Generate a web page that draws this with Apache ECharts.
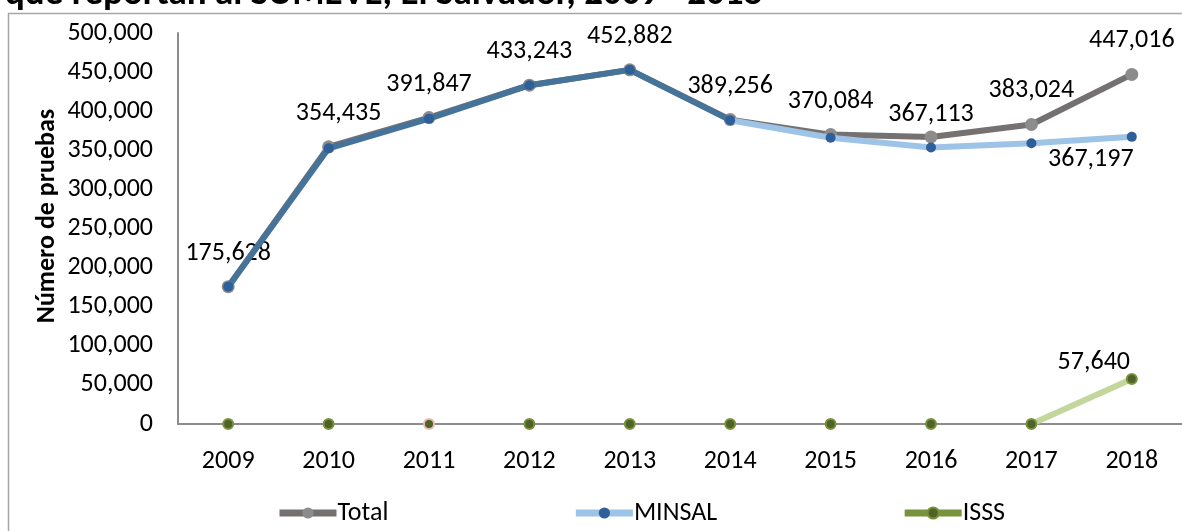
<!DOCTYPE html>
<html>
<head>
<meta charset="utf-8">
<script src="https://cdn.jsdelivr.net/npm/echarts@6/dist/echarts.min.js"></script>
<style>
	html, body { margin: 0; padding: 0; background: #fff; }
	#chart { width: 1182px; height: 531px; }
</style>
</head>
<body>
<div id="chart"></div>
<script>
// datos
const years = ["2009", "2010", "2011", "2012", "2013", "2014", "2015", "2016", "2017", "2018"];
const totalData = [175628, 354435, 391847, 433243, 452882, 389256, 370084, 367113, 383024, 447016];
const minsalData = [175628, 352500, 390500, 433243, 452882, 388500, 366000, 353500, 359000, 367197];
const isssData = [0, 0, 0, 0, 0, 0, 0, 0, 0, 57640];
const yTicks = [0, 50000, 100000, 150000, 200000, 250000, 300000, 350000, 400000, 450000, 500000];

const fontFam = "Carlito, Lato, 'Open Sans', sans-serif";
const fmt = v => Number(v).toLocaleString("en-US");
const lastIdx = years.length - 1;

// colores
const grayLine = "#767171";
const grayDot = "#8c8c8c";
const steelBlue = "#46739a";
const lightBlue = "#9dc3e6";
const darkBlue = "#2f5f98";
const greenLine = "#77933c";
const lightGreen = "#c3d69b";
const darkGreen = "#4f6228";

// corte de color por segmento (2014 y 2017)
const cut2014 = 5 / lastIdx;
const cut2017 = 8 / lastIdx;

const chart = echarts.init(document.getElementById("chart"), null, { renderer: "canvas" });

const option = {
	animation: false,
	backgroundColor: "#fff",
	textStyle: { fontFamily: fontFam },
	graphic: [
		{
			type: "text",
			left: 5,
			top: -24,
			style: {
				text: "que reportan al SUMEVE, El Salvador, 2009 - 2018",
				font: "bold 37px " + fontFam,
				fill: "#000"
			}
		},
		{
			// título del eje Y
			type: "text",
			x: 47,
			y: 216,
			rotation: Math.PI / 2,
			style: {
				text: "Número de pruebas",
				font: "bold 26px " + fontFam,
				fill: "#000",
				align: "center",
				verticalAlign: "middle"
			}
		},
		{
			type: "rect",
			shape: { x: 8.5, y: 13.5, width: 1200, height: 600 },
			style: { fill: "none", stroke: "#a6a6a6", lineWidth: 1.5 },
			z: 100
		}
	],
	grid: {
		left: 178,
		right: 0,
		top: 33,
		bottom: 107
	},
	legend: {
		left: 271,
		top: 495,
		itemGap: 184,
		itemWidth: 57,
		itemHeight: 14,
		textStyle: { fontSize: 26, color: "#000", fontFamily: fontFam, padding: [0, 0, 0, -4] },
		data: [
			{ name: "Total", itemStyle: { color: grayDot }, lineStyle: { color: grayLine, width: 7 } },
			{ name: "MINSAL", itemStyle: { color: darkBlue }, lineStyle: { color: lightBlue, width: 7 } },
			{ name: "ISSS", itemStyle: { color: darkGreen, borderColor: greenLine, borderWidth: 2 }, lineStyle: { color: greenLine, width: 7 } }
		]
	},
	xAxis: {
		type: "category",
		data: years,
		boundaryGap: true,
		axisLine: { lineStyle: { color: "#8c8c8c", width: 2 } },
		axisTick: { show: false },
		axisLabel: { fontSize: 26, color: "#000", margin: 24, fontFamily: fontFam }
	},
	yAxis: {
		type: "value",
		min: yTicks[0],
		max: yTicks[yTicks.length - 1],
		interval: yTicks[1] - yTicks[0],
		axisLine: { show: true, lineStyle: { color: "#8c8c8c", width: 2 } },
		axisTick: { show: false },
		splitLine: { show: false },
		axisLabel: { fontSize: 26, color: "#000", margin: 25, formatter: fmt, fontFamily: fontFam }
	},
	series: [
		{
			name: "Total",
			type: "line",
			data: totalData.map((v, i) => {
				if (i === 1) return { value: v, label: { offset: [10, 0] } };
				if (i === 7) return { value: v, label: { distance: 3 } };
				return v;
			}),
			z: 2,
			symbol: "circle",
			symbolSize: 13,
			itemStyle: { color: grayDot },
			lineStyle: { color: grayLine, width: 6 },
			label: {
				show: true,
				position: "top",
				distance: 14,
				fontSize: 26,
				color: "#000",
				fontFamily: fontFam,
				formatter: p => fmt(p.value)
			}
		},
		{
			name: "MINSAL",
			type: "line",
			z: 3,
			data: minsalData.map((v, i) => i === lastIdx ? {
				value: v,
				label: { show: true, position: "bottom", distance: 5, offset: [-41, 0] }
			} : v),
			symbol: "circle",
			symbolSize: 10,
			itemStyle: { color: darkBlue },
			lineStyle: {
				width: 6,
				color: {
					type: "linear", x: 0, y: 0, x2: 1, y2: 0,
					colorStops: [
						{ offset: 0, color: steelBlue },
						{ offset: cut2014, color: steelBlue },
						{ offset: cut2014 + 0.001, color: lightBlue },
						{ offset: 1, color: lightBlue }
					]
				}
			},
			label: {
				show: false,
				fontSize: 26,
				color: "#000",
				fontFamily: fontFam,
				formatter: p => fmt(p.value)
			}
		},
		{
			name: "ISSS",
			type: "line",
			z: 4,
			data: isssData.map((v, i) => {
				if (i === lastIdx) {
					return { value: v, label: { show: true, position: "top", distance: -3, offset: [-38, 0] } };
				}
				if (i === 2) {
					return { value: v, itemStyle: { borderColor: "#e6b9b8" } };
				}
				return v;
			}),
			symbol: "circle",
			symbolSize: 10,
			itemStyle: { color: darkGreen, borderColor: greenLine, borderWidth: 2 },
			lineStyle: {
				width: 6,
				color: {
					type: "linear", x: 0, y: 0, x2: 1, y2: 0,
					colorStops: [
						{ offset: 0, color: "rgba(0,0,0,0)" },
						{ offset: cut2017, color: "rgba(0,0,0,0)" },
						{ offset: cut2017 + 0.001, color: lightGreen },
						{ offset: 1, color: lightGreen }
					]
				}
			},
			label: {
				show: false,
				fontSize: 26,
				color: "#000",
				fontFamily: fontFam,
				formatter: p => fmt(p.value)
			}
		}
	]
};

chart.setOption(option);
</script>
</body>
</html>
